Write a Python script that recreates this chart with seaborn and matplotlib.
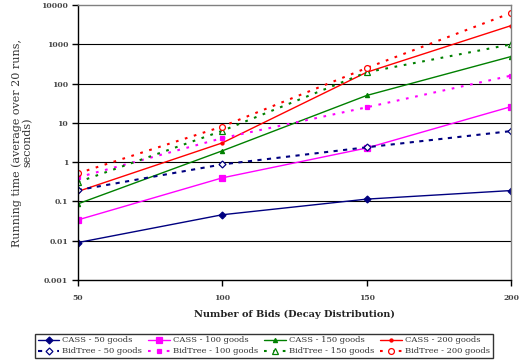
import matplotlib
matplotlib.use("Agg")
import matplotlib.pyplot as plt
import seaborn as sns
import pandas as pd
from matplotlib.ticker import FixedLocator, FuncFormatter, NullLocator

sns.set_theme(style="white")
plt.rcParams['font.family'] = ['DejaVu Serif']

bids = [50, 100, 150, 200]
cass_50 = [0.009, 0.046, 0.115, 0.19]
cass_100 = [0.034, 0.40, 2.3, 26]
cass_150 = [0.087, 1.95, 50, 490]
cass_200 = [0.18, 3.1, 195, 3000]
bidtree_50 = [0.195, 0.88, 2.4, 6.2]
bidtree_100 = [0.41, 4.1, 25, 160]
bidtree_150 = [0.31, 6.3, 195, 1000]
bidtree_200 = [0.52, 8.1, 250, 6300]

series_names = ["CASS - 50 goods", "CASS - 100 goods", "CASS - 150 goods", "CASS - 200 goods",
                "BidTree - 50 goods", "BidTree - 100 goods", "BidTree - 150 goods", "BidTree - 200 goods"]
series_values = [cass_50, cass_100, cass_150, cass_200,
                 bidtree_50, bidtree_100, bidtree_150, bidtree_200]

styles = {
    "CASS - 50 goods": dict(color="#000080", marker="D", ms=3.5, mfc="#000080", dashes=None),
    "CASS - 100 goods": dict(color="#FF00FF", marker="s", ms=4.5, mfc="#FF00FF", dashes=None),
    "CASS - 150 goods": dict(color="#008000", marker="^", ms=3.0, mfc="#008000", dashes=None),
    "CASS - 200 goods": dict(color="#FF0000", marker="o", ms=2.2, mfc="#FF0000", dashes=None),
    "BidTree - 50 goods": dict(color="#000080", marker="D", ms=3.5, mfc="white", dashes=(2.0, 2.6)),
    "BidTree - 100 goods": dict(color="#FF00FF", marker="s", ms=3.0, mfc="#FF00FF", dashes=(1.3, 3.2)),
    "BidTree - 150 goods": dict(color="#008000", marker="^", ms=4.2, mfc="white", dashes=(1.3, 3.2)),
    "BidTree - 200 goods": dict(color="#FF0000", marker="o", ms=4.2, mfc="white", dashes=(1.3, 3.2)),
}

rows = []
for name, vals in zip(series_names, series_values):
    for b, v in zip(bids, vals):
        rows.append({"bids": b, "time": v, "series": name})
df = pd.DataFrame(rows)

fig = plt.figure(figsize=(5.19, 3.6), dpi=100)
ax = fig.add_axes([0.150, 0.222, 0.835, 0.764])

for name in series_names:
    st = styles[name]
    sub = df[df["series"] == name]
    sns.lineplot(data=sub, x="bids", y="time", ax=ax, color=st["color"], lw=1.0,
                 marker=st["marker"], markersize=st["ms"], markerfacecolor=st["mfc"],
                 markeredgecolor=st["color"], markeredgewidth=0.9, label=name, legend=False)
    line = ax.lines[-1]
    if st["dashes"] is not None:
        line.set_linewidth(1.5)
        line.set_dashes(st["dashes"])

ax.set_yscale("log")
ax.set_ylim(0.001, 10000)
ax.set_xlim(50, 200)
yt = [0.001, 0.01, 0.1, 1, 10, 100, 1000, 10000]
ax.yaxis.set_major_locator(FixedLocator(yt))
ax.yaxis.set_minor_locator(NullLocator())
ax.yaxis.set_major_formatter(FuncFormatter(lambda v, p: ("%g" % v)))
ax.set_xticks(bids)
for y in yt[1:-1]:
    ax.axhline(y, color="black", lw=0.8, zorder=0)

for sp in ["top", "right"]:
    ax.spines[sp].set_color("#808080")
    ax.spines[sp].set_linewidth(1.0)
for sp in ["left", "bottom"]:
    ax.spines[sp].set_color("black")
    ax.spines[sp].set_linewidth(1.0)

ax.tick_params(axis="both", which="major", direction="out", length=4, width=1,
               color="black", labelsize=5.5, pad=3, left=True, bottom=True)
for lab in ax.get_xticklabels() + ax.get_yticklabels():
    lab.set_fontweight("bold")
    lab.set_color("#444444")
ax.tick_params(axis="x", pad=6)

ax.set_xlabel("Number of Bids (Decay Distribution)", fontsize=7, fontweight="bold",
              labelpad=6, color="#222222")
ax.set_ylabel("Running time (average over 20 runs,\nseconds)", fontsize=8, labelpad=6,
              color="#333333", linespacing=1.1)

handles, labels = ax.get_legend_handles_labels()
h = dict(zip(labels, handles))
# column-major order so that row 1 = CASS, row 2 = BidTree
leg_order = []
for i in range(4):
    leg_order += [series_names[i], series_names[i + 4]]
leg = fig.legend([h[n] for n in leg_order], leg_order,
                 loc="lower center", bbox_to_anchor=(0.508, 0.0), ncol=4, fontsize=6,
                 frameon=True, fancybox=False, edgecolor="black", handlelength=2.6,
                 handletextpad=0.3, columnspacing=0.8, borderpad=0.35, labelspacing=0.35,
                 borderaxespad=0.2)
leg.get_frame().set_linewidth(1.0)
for t in leg.get_texts():
    t.set_color("#333333")

fig.savefig("out.png", dpi=100)
